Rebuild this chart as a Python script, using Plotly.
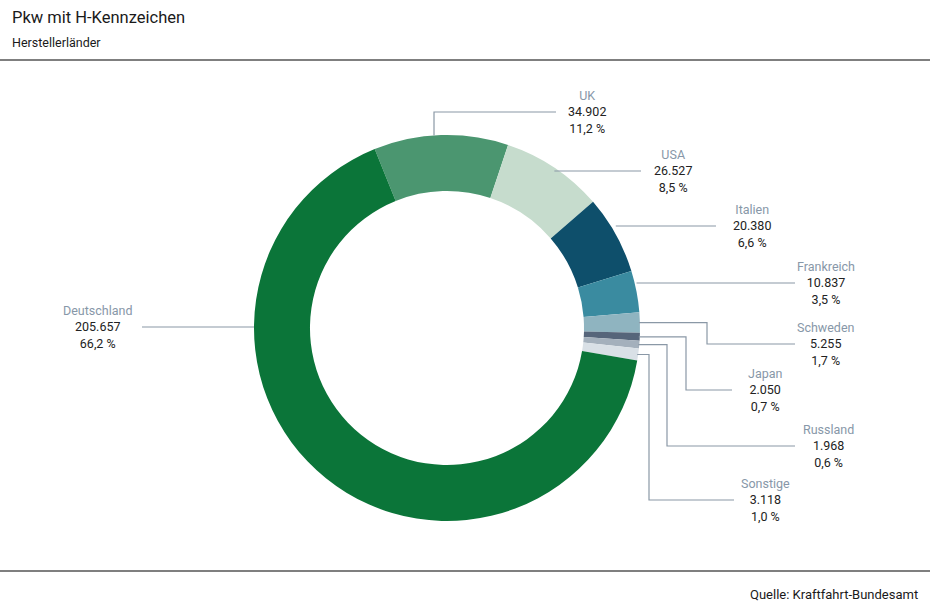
import math
import plotly.graph_objects as go

# Data
countries = ['UK', 'USA', 'Italien', 'Frankreich', 'Schweden', 'Japan', 'Russland', 'Sonstige', 'Deutschland']
cars = [34902, 26527, 20380, 10837, 5255, 2050, 1968, 3118, 205657]
shares = ['11,2 %', '8,5 %', '6,6 %', '3,5 %', '1,7 %', '0,7 %', '0,6 %', '1,0 %', '66,2 %']
colors = ['#4b9670', '#c6dccd', '#0e4f6b', '#3a8ba0', '#8fb4c0', '#56657a', '#a4b0bc', '#d9e0e6', '#0b7539']

# Page geometry (pixels)
W, H = 930, 605
cx, cy, R = 447, 328, 193
rotation = -22

# Label placement: (text center x, value line y, elbow x or None, line end x)
label_pos = {
    'UK': (587, 112, 'up', 556),
    'USA': (673, 171, None, 641),
    'Italien': (752, 226, None, 716),
    'Frankreich': (826, 283, None, 795),
    'Schweden': (826, 344, 707, 795),
    'Japan': (765, 390, 686, 732),
    'Russland': (828, 446, 667, 795),
    'Sonstige': (765, 500, 649, 734),
    'Deutschland': (97, 327, None, 142),
}


def px(x):
    return x / W


def py(y):
    return 1 - y / H


fig = go.Figure()
fig.add_trace(go.Pie(
    labels=countries, values=cars, sort=False, direction='clockwise', rotation=rotation,
    hole=0.71, textinfo='none', hoverinfo='label+value+percent',
    marker=dict(colors=colors, line=dict(width=0)),
    domain=dict(x=[px(cx - R), px(cx + R)], y=[py(cy + R), py(cy - R)]),
    showlegend=False,
))

# Leader lines and labels
total = sum(cars)
angle = rotation
shapes = []
annotations = []
line_color = '#8a98a6'
for name, value, share in zip(countries, cars, shares):
    span = 360 * value / total
    mid = math.radians(angle + span / 2)
    angle += span
    sx = cx + R * math.sin(mid)
    sy = cy - R * math.cos(mid)
    tx, ty, elbow, ex = label_pos[name]
    if elbow == 'up':
        sx -= 7  # line sits a little left of the slice middle
        pts = [(sx, cy - math.sqrt(R * R - (sx - cx) ** 2)), (sx, ty), (ex, ty)]
    elif elbow is None:
        pts = [(sx, ty), (ex, ty)] if name != 'Deutschland' else [(ex, ty), (cx - R, ty)]
    else:
        pts = [(sx - 1, sy), (elbow, sy), (elbow, ty), (ex, ty)]
    path = 'M ' + ' L '.join(f'{px(x):.5f},{py(y):.5f}' for x, y in pts)
    shapes.append(dict(type='path', xref='paper', yref='paper', path=path,
                       line=dict(color=line_color, width=1.2)))
    annotations.append(dict(
        x=px(tx), y=py(ty), xref='paper', yref='paper', xanchor='center', yanchor='middle',
        text=f"<span style='color:#8797a8'>{name}</span><br>{f'{value:,}'.replace(',', '.')}<br>{share}",
        showarrow=False, align='center', font=dict(size=12.5, color='#222222'),
    ))

# Header, rules and source
shapes.append(dict(type='line', xref='paper', yref='paper', x0=0, x1=1, y0=py(60), y1=py(60),
                   line=dict(color='#555555', width=1.5)))
shapes.append(dict(type='line', xref='paper', yref='paper', x0=0, x1=1, y0=py(571), y1=py(571),
                   line=dict(color='#555555', width=1.5)))
annotations.append(dict(x=px(10), y=py(18), xref='paper', yref='paper', xanchor='left', yanchor='middle',
                        text='Pkw mit H-Kennzeichen', showarrow=False, font=dict(size=16.5, color='#1a1a1a')))
annotations.append(dict(x=px(10), y=py(42), xref='paper', yref='paper', xanchor='left', yanchor='middle',
                        text='Herstellerländer', showarrow=False, font=dict(size=12.5, color='#1a1a1a')))
annotations.append(dict(x=px(920), y=py(594), xref='paper', yref='paper', xanchor='right', yanchor='middle',
                        text='Quelle: Kraftfahrt-Bundesamt', showarrow=False, font=dict(size=13, color='#1a1a1a')))

fig.update_layout(
    width=W, height=H, margin=dict(l=0, r=0, t=0, b=0),
    paper_bgcolor='white', plot_bgcolor='white',
    font=dict(family='Roboto, Arial, sans-serif'),
    shapes=shapes, annotations=annotations,
)

# Drop the default body margin so the figure fills the window
fig.write_html('out.html', config={'displayModeBar': False},
               post_script="document.body.style.margin='0';")
